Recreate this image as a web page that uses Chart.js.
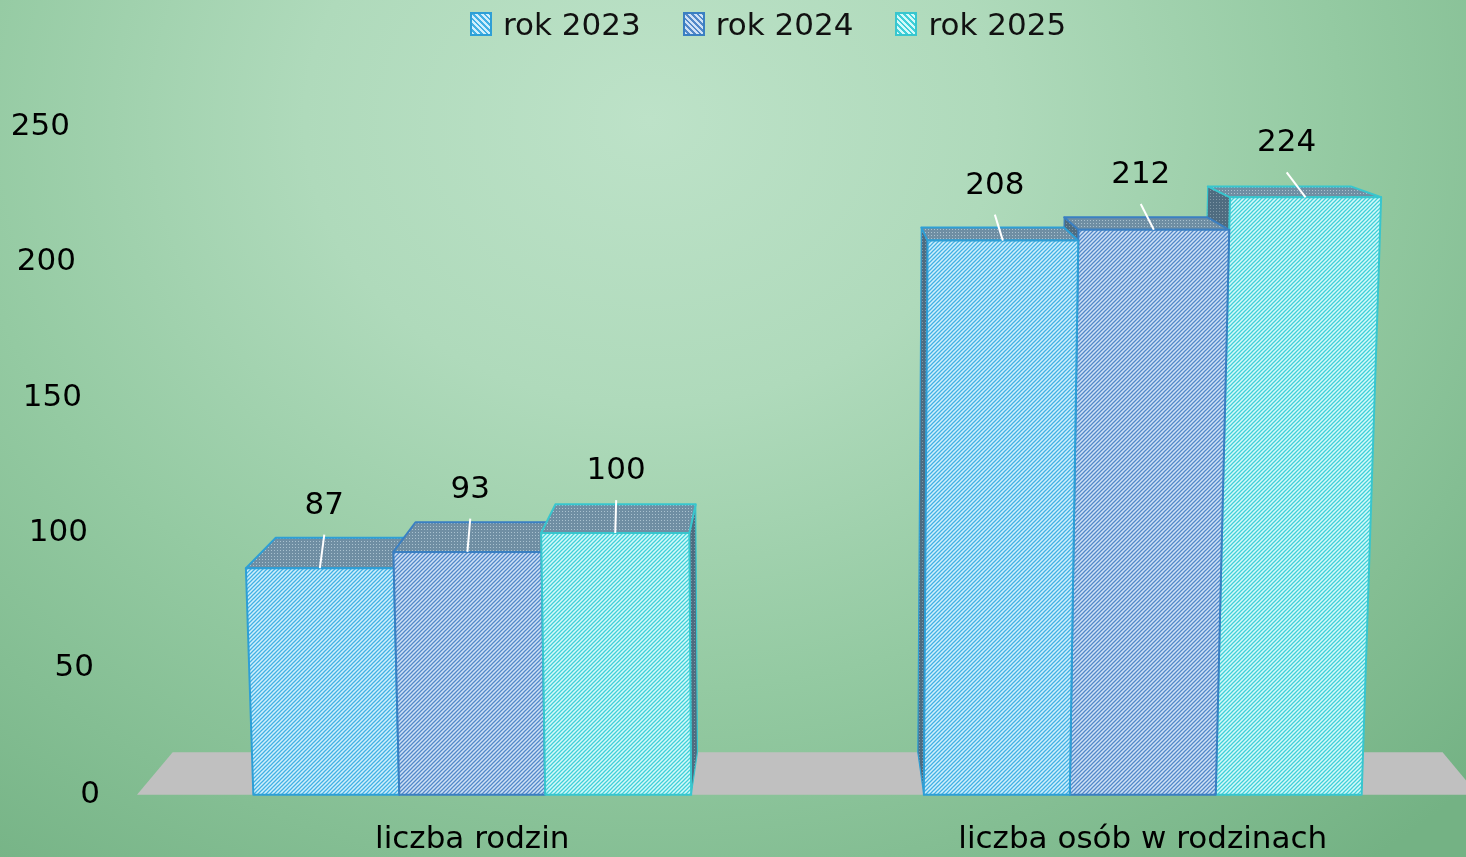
<!DOCTYPE html>
<html lang="pl">
  <head>
    <meta charset="utf-8" />
    <title>Rodziny 2023-2025</title>
    <style>
      html, body {
        margin: 0;
        width: 1466px;
        height: 857px;
        overflow: hidden;
        font-family: "DejaVu Sans", sans-serif;
      }
      body {
        background: radial-gradient(ellipse 1150px 950px at 650px 120px, #bde2c8 0%, #afdabb 30%, #94caa2 60%, #74b284 100%);
      }
      .wrap {
        position: relative;
        width: 1480px;
        height: 886px;
      }
      #legend {
        position: absolute;
        top: 4px;
        left: 470px;
        display: flex;
        align-items: center;
        height: 40px;
        font-size: 31px;
        color: #111;
      }
      .item {
        display: flex;
        align-items: center;
        margin-right: 42px;
      }
      .sw {
        width: 18px;
        height: 20px;
        margin-right: 11px;
        border: 2px solid;
      }
    </style>
  </head>
  <body>
    <div class="wrap">
      <canvas id="myChart" width="1480" height="886"></canvas>
      <div id="legend"></div>
    </div>
    <script src="https://cdn.jsdelivr.net/npm/chart.js"></script>
    <script>
      const categories = ["liczba rodzin", "liczba osób w rodzinach"];
      const seriesNames = ["rok 2023", "rok 2024", "rok 2025"];
      const values2023 = [87, 208];
      const values2024 = [93, 212];
      const values2025 = [100, 224];
      const yTicks = [0, 50, 100, 150, 200, 250];

      // front face: background, stripe, border
      const looks = [
        { bg: "#d0effc", stripe: "#42b0e4", border: "#2e9fd6" },
        { bg: "#cfe1f6", stripe: "#5288c8", border: "#3a7fc2" },
        { bg: "#d4fafa", stripe: "#40cfd8", border: "#38c6ce" },
      ];

      // fake perspective
      const VX = 810, VY = -8, DEPTH = 0.053, SHEAR = 5.9e-5;

      function back(p) {
        return [p[0] + (VX - p[0]) * DEPTH, p[1] + (VY - p[1]) * DEPTH];
      }
      function shear(x, h) {
        return x + (x - VX) * h * SHEAR;
      }

      function hatch(ctx, bg, line) {
        const c = document.createElement("canvas");
        c.width = 4;
        c.height = 4;
        const g = c.getContext("2d");
        g.fillStyle = bg;
        g.fillRect(0, 0, 4, 4);
        g.strokeStyle = line;
        g.lineWidth = 1.25;
        g.beginPath();
        g.moveTo(-1, 5); g.lineTo(5, -1);
        g.moveTo(-1, 1); g.lineTo(1, -1);
        g.moveTo(3, 5); g.lineTo(5, 3);
        g.stroke();
        return ctx.createPattern(c, "repeat");
      }

      function dots(ctx, bg, dot) {
        const c = document.createElement("canvas");
        c.width = 3;
        c.height = 3;
        const g = c.getContext("2d");
        g.fillStyle = bg;
        g.fillRect(0, 0, 3, 3);
        g.fillStyle = dot;
        g.fillRect(1, 1, 1, 1);
        return ctx.createPattern(c, "repeat");
      }

      function quad(ctx, pts, fill, stroke, lw) {
        ctx.beginPath();
        ctx.moveTo(pts[0][0], pts[0][1]);
        for (let i = 1; i < pts.length; i++) ctx.lineTo(pts[i][0], pts[i][1]);
        ctx.closePath();
        if (fill) {
          ctx.fillStyle = fill;
          ctx.fill();
        }
        if (stroke) {
          ctx.strokeStyle = stroke;
          ctx.lineWidth = lw || 1.5;
          ctx.lineJoin = "round";
          ctx.stroke();
        }
      }

      function getBoxes(chart) {
        const boxes = [];
        const floor = chart.chartArea.bottom;
        chart.data.datasets.forEach((ds, i) => {
          chart.getDatasetMeta(i).data.forEach((el, j) => {
            const p = el.getProps(["x", "y", "base", "width"], true);
            const base = Math.min(p.base, floor);
            const h = base - p.y;
            const l = p.x - p.width / 2;
            const r = p.x + p.width / 2;
            boxes.push({
              ds: i,
              value: ds.data[j],
              cx: p.x,
              h: h,
              bl: [l, base],
              br: [r, base],
              tl: [shear(l, h), p.y],
              tr: [shear(r, h), p.y],
            });
          });
        });
        return boxes;
      }

      const boxes3d = {
        id: "boxes3d",
        beforeDatasetsDraw(chart) {
          const ctx = chart.ctx;
          const a = chart.chartArea;
          ctx.save();
          const fl = [a.left, a.bottom];
          const fr = [a.right, a.bottom];
          quad(ctx, [fl, fr, back(fr), back(fl)], "#c0c0c0");

          const topFill = dots(ctx, "#6f8ea3", "#a9c1cf");
          const sideFill = dots(ctx, "#4f6c80", "#7f97a6");
          const boxes = getBoxes(chart);
          boxes.sort((p, q) => Math.abs(q.cx - VX) - Math.abs(p.cx - VX));
          boxes.forEach((b) => {
            const look = looks[b.ds];
            if (b.br[0] < VX) {
              quad(ctx, [b.tr, b.br, back(b.br), back(b.tr)], sideFill, look.border, 1.2);
            }
            if (b.bl[0] > VX) {
              quad(ctx, [b.tl, b.bl, back(b.bl), back(b.tl)], sideFill, look.border, 1.2);
            }
            quad(ctx, [b.tl, b.tr, back(b.tr), back(b.tl)], topFill, look.border, 2);
          });
          boxes.forEach((b) => {
            const look = looks[b.ds];
            quad(ctx, [b.bl, b.br, b.tr, b.tl], hatch(ctx, look.bg, look.stripe), look.border, 2);
          });
          ctx.restore();
        },
        afterDatasetsDraw(chart) {
          const ctx = chart.ctx;
          ctx.save();
          ctx.font = "31px 'DejaVu Sans'";
          ctx.fillStyle = "#000";
          ctx.textAlign = "center";
          ctx.textBaseline = "middle";
          getBoxes(chart).forEach((b) => {
            const lx = b.cx - 2;
            const ly = b.tl[1] - (68 - 0.0235 * b.h);
            ctx.fillText(String(b.value), lx, ly);
            ctx.strokeStyle = "#fff";
            ctx.lineWidth = 2;
            ctx.beginPath();
            ctx.moveTo(lx, ly + 29);
            ctx.lineTo(shear(b.cx, b.h), b.tl[1]);
            ctx.stroke();
          });

          // y labels, staggered like the perspective axis
          const ys = chart.scales.y;
          ctx.textAlign = "right";
          yTicks.forEach((v) => {
            ctx.fillText(String(v), 100 - 0.12 * v, ys.getPixelForValue(Math.max(v, ys.min)));
          });
          ctx.restore();
        },
      };

      const ctx = document.getElementById("myChart");
      const dataSets = [values2023, values2024, values2025];

      const chart = new Chart(ctx, {
        type: "bar",
        data: {
          labels: categories,
          datasets: dataSets.map((vals, i) => ({
            label: seriesNames[i],
            data: vals,
            backgroundColor: "rgba(0,0,0,0)",
            borderWidth: 0,
            categoryPercentage: 0.653,
            barPercentage: 1,
          })),
        },
        options: {
          responsive: false,
          animation: false,
          layout: { padding: { top: 125, left: 137, right: 2, bottom: 0 } },
          plugins: {
            legend: { display: false },
            tooltip: { enabled: false },
          },
          scales: {
            x: {
              grid: { display: false, drawTicks: false },
              border: { display: false },
              ticks: {
                color: "#000",
                padding: 27,
                font: { family: "DejaVu Sans", size: 31 },
              },
            },
            y: {
              // the front plane sits a little in front of the zero line
              display: false,
              min: 3.3,
              max: 250.7,
            },
          },
        },
        plugins: [boxes3d],
      });

      // legend
      const legend = document.getElementById("legend");
      seriesNames.forEach((name, i) => {
        const item = document.createElement("div");
        item.className = "item";
        const sw = document.createElement("div");
        sw.className = "sw";
        sw.style.borderColor = looks[i].border;
        sw.style.background =
          "repeating-linear-gradient(45deg, " + looks[i].bg + " 0 2px, " + looks[i].stripe + " 2px 4px)";
        const txt = document.createElement("span");
        txt.textContent = name;
        item.appendChild(sw);
        item.appendChild(txt);
        legend.appendChild(item);
      });
    </script>
  </body>
</html>
